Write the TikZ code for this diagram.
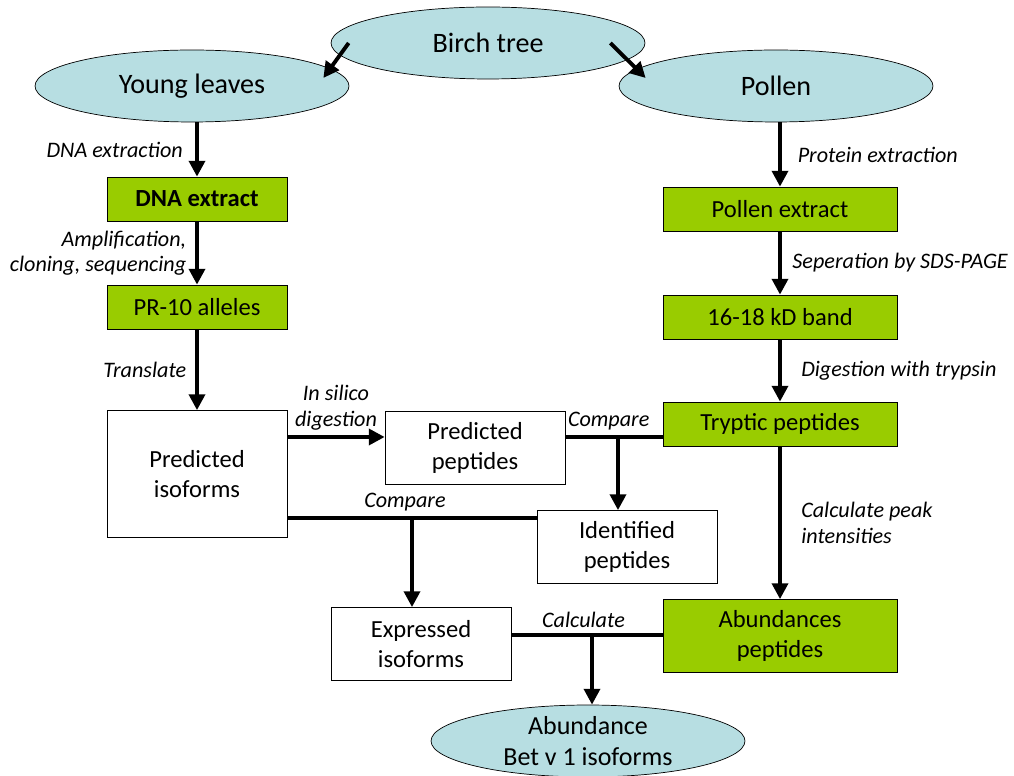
\documentclass[tikz,border=0pt]{standalone}
\usepackage{fontspec}
\setmainfont{Carlito}
\usepackage{tikz}
\usetikzlibrary{arrows.meta, shapes.geometric, calc}
\definecolor{skyblue}{RGB}{183,222,226}
\definecolor{leafgreen}{RGB}{153,204,0}

\begin{document}
\begin{tikzpicture}[x=0.02cm, y=-0.02cm,
  blob/.style={ellipse, draw, thin, fill=skyblue, minimum width=6.28cm, minimum height=1.44cm, inner sep=0pt, align=center, font=\fontsize{16}{17}\selectfont},
  greenbox/.style={rectangle, draw, thin, fill=leafgreen, minimum height=0.88cm, align=center, font=\fontsize{14}{17}\selectfont},
  whitebox/.style={rectangle, draw, thin, fill=white, minimum width=3.6cm, minimum height=1.46cm, align=center, font=\fontsize{14}{17}\selectfont},
  arr/.style={line width=2.2pt, -{Triangle[length=9pt, width=9pt]}},
  bar/.style={line width=2.2pt},
  lbl/.style={font=\itshape\fontsize{12.6}{14.4}\selectfont, inner sep=3pt}]
\useasboundingbox (0,0) rectangle (1014,776);

% ellipses
\node[blob] (birch) at (488,43) {Birch tree};
\node[blob] (young) at (192,86) {Young leaves};
\node[blob] (pollen) at (776,86) {Pollen};
\node[blob, font=\fontsize{14.8}{17.5}\selectfont] (bet) at (588,741) {Abundance\\Bet v 1 isoforms};

% left column
\node[greenbox, minimum width=3.6cm, font=\bfseries\fontsize{14}{17}\selectfont] (dna) at (197,199) {DNA extract};
\node[greenbox, minimum width=3.6cm] (alleles) at (197,307) {PR-10 alleles};
\node[whitebox, minimum height=2.54cm] (piso) at (197,474) {Predicted\\isoforms};

% right column
\node[greenbox, minimum width=4.68cm] (pext) at (780,209) {Pollen extract};
\node[greenbox, minimum width=4.68cm] (band) at (780,317) {16-18 kD band};
\node[greenbox, minimum width=4.68cm] (tryp) at (780,424) {Tryptic peptides};
\node[greenbox, minimum width=4.68cm, minimum height=1.46cm] (abpep) at (780,636) {Abundances\\peptides};

% middle
\node[whitebox] (ppep) at (475,448) {Predicted\\peptides};
\node[whitebox] (idpep) at (627,547) {Identified\\peptides};
\node[whitebox] (expiso) at (421,644) {Expressed\\isoforms};

% junctions
\coordinate (cmp1) at (618,437);
\coordinate (cmp2) at (412,518);
\coordinate (calc) at (592,635);

% arrows
\draw[arr] ([shift={(18,0)}]birch.west) -- ([shift={(-26,-8)}]young.east);
\draw[arr] ([shift={(-35,0)}]birch.east) -- ([shift={(27,-8)}]pollen.west);

\draw[arr] (dna.north |- young.south) -- node[lbl, left=4pt] {DNA extraction} (dna);
\draw[arr] (dna) -- node[lbl, left=2pt, align=right] {Amplification,\\cloning, sequencing} (alleles);
\draw[arr] (alleles) -- node[lbl, left=2pt] {Translate} (piso);

\draw[arr] (pext.north |- pollen.south) -- node[lbl, right=6pt] {Protein extraction} (pext);
\draw[arr] (pext) -- node[lbl, right=3pt] {Seperation by SDS-PAGE} (band);
\draw[arr] (band) -- node[lbl, right=8pt] {Digestion with trypsin} (tryp);
\draw[arr] (tryp) -- node[lbl, right=8pt, align=left] {Calculate peak\\intensities} (abpep);

\draw[arr] (piso.east |- cmp1) -- node[lbl, above, align=center] {In silico\\digestion} (ppep.west |- cmp1);

\draw[bar] (ppep.east |- cmp1) -- node[lbl, above, xshift=-3pt] {Compare} (tryp.west |- cmp1);
\draw[arr] (cmp1) -- (idpep.north -| cmp1);

\draw[bar] (piso.east |- cmp2) -- node[lbl, above, xshift=-4pt] {Compare} (idpep.west |- cmp2);
\draw[arr] (cmp2) -- (expiso.north -| cmp2);

\draw[bar] (expiso.east |- calc) -- node[lbl, above, xshift=-2pt] {Calculate} (abpep.west |- calc);
\draw[arr] (calc) -- (bet.north -| calc);
\end{tikzpicture}
\end{document}
